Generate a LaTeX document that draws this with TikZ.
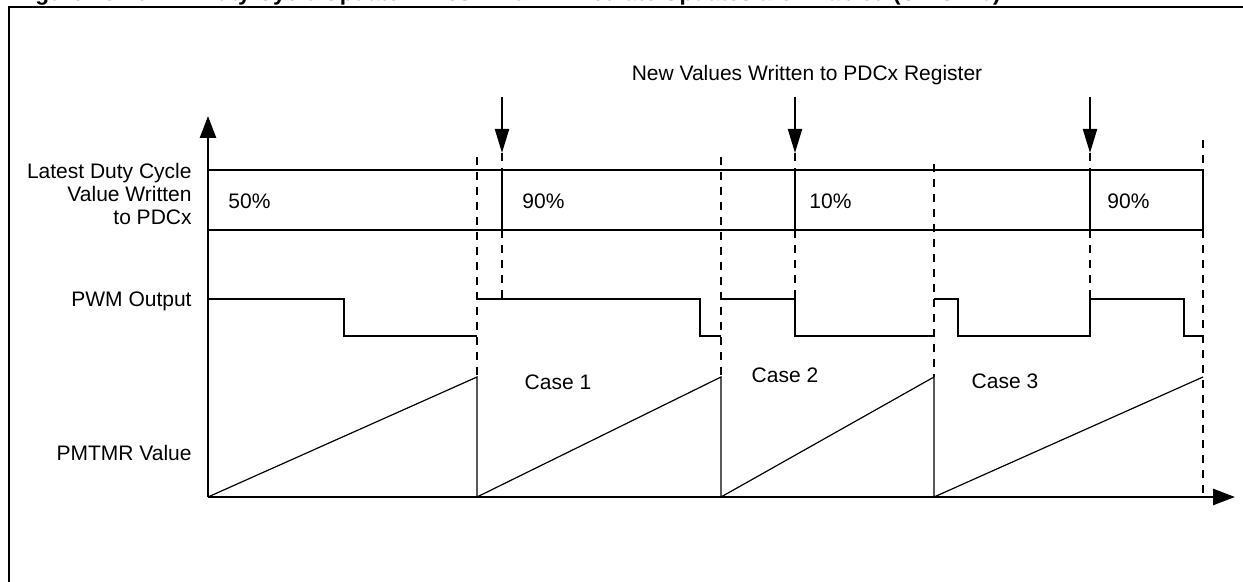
\documentclass[tikz,border=0pt]{standalone}
\usepackage{fontspec}
\setmainfont{Liberation Sans}
\usetikzlibrary{arrows.meta}
\begin{document}
\begin{tikzpicture}[x=0.5pt, y=-0.5pt,
    lbl/.style={font=\fontsize{10.5}{11.5}\selectfont, inner sep=0pt},
    wave/.style={line width=1pt},
    ramp/.style={line width=0.6pt},
    guide/.style={line width=1pt, dash pattern=on 4pt off 3.5pt},
    axis/.style={line width=1.3pt, -{Triangle[length=11pt,width=8pt]}},
    wtip/.style={line width=1pt, -{Triangle[length=12pt,width=7pt]}}]
    \useasboundingbox (0,0) rectangle (1243,582);

    % Caption, cut off by the top edge
    \node[anchor=base west, inner sep=0pt, font=\bfseries\fontsize{11.3}{13}\selectfont] (fignum) at (15,1) {Figure 15-10:};
    \node[anchor=base west, inner sep=0pt, font=\bfseries\fontsize{11.3}{13}\selectfont] (figtitle) at (200,1) {Duty Cycle Update Times When Immediate Updates are Enabled (UDIS = 0)};
    \draw[line width=1pt] (9,582) -- (9,7) -- (1243,7);

    % Axes
    \draw[axis] (208,497) -- (1235,497);
    \draw[axis] (208,497) -- (208,116);

    % Duty cycle register band
    \draw[wave] (208,170) -- (1203,170) -- (1203,230) -- (208,230);

    % Period boundaries
    \foreach \x/\y in {477/157, 721/157, 934/164}
        \draw[guide] (\x,\y) -- (\x,377);
    \draw[guide] (1203,140) -- (1203,497);

    % Writes to PDCx
    \node[lbl] (newvals) at (807,75) {New Values Written to PDCx Register};
    \foreach \x [count=\i] in {502,795,1090} {
        \coordinate (wtop\i) at (\x,97);
        \coordinate (whead\i) at (\x,153);
        \coordinate (wreg\i) at (\x,170);
        \coordinate (wbot\i) at (\x,230);
        \coordinate (wpwm\i) at (\x,299);
        \draw[wtip] (wtop\i) -- (whead\i);
        \draw[guide] (whead\i) -- (wreg\i);
        \draw[wave] (wreg\i) -- (wbot\i);
        \draw[guide] (wbot\i) -- (wpwm\i);
    }

    % PWM output
    \draw[wave] (208,299) -- (344,299) -- (344,336) -- (477,336);
    \draw[wave] (477,299) -- (700,299) -- (700,336) -- (721,336);
    \draw[wave] (721,299) -- (795,299) -- (795,336) -- (934,336);
    \draw[wave] (934,299) -- (958,299) -- (958,336) -- (1090,336) -- (1090,299) -- (1184,299) -- (1184,336) -- (1203,336);

    % PMTMR ramps
    \draw[ramp] (208,497) -- (477,377) -- (477,497) -- (721,377) -- (721,497) -- (934,377) -- (934,497) -- (1203,377);

    % Labels
    \node[lbl, anchor=east, align=right] (reglbl) at (192,194) {Latest Duty Cycle\\Value Written\\to PDCx};
    \node[lbl, anchor=east] (pwmlbl) at (192,301) {PWM Output};
    \node[lbl, anchor=east] (tmrlbl) at (192,453) {PMTMR Value};
    \node[lbl, anchor=west] (val1) at (228,201) {50\%};
    \node[lbl, anchor=west] (val2) at (522,201) {90\%};
    \node[lbl, anchor=west] (val3) at (809,201) {10\%};
    \node[lbl, anchor=west] (val4) at (1107,201) {90\%};
    \node[lbl] (case1) at (558,382) {Case 1};
    \node[lbl] (case2) at (785,375) {Case 2};
    \node[lbl] (case3) at (1005,381) {Case 3};
\end{tikzpicture}
\end{document}
